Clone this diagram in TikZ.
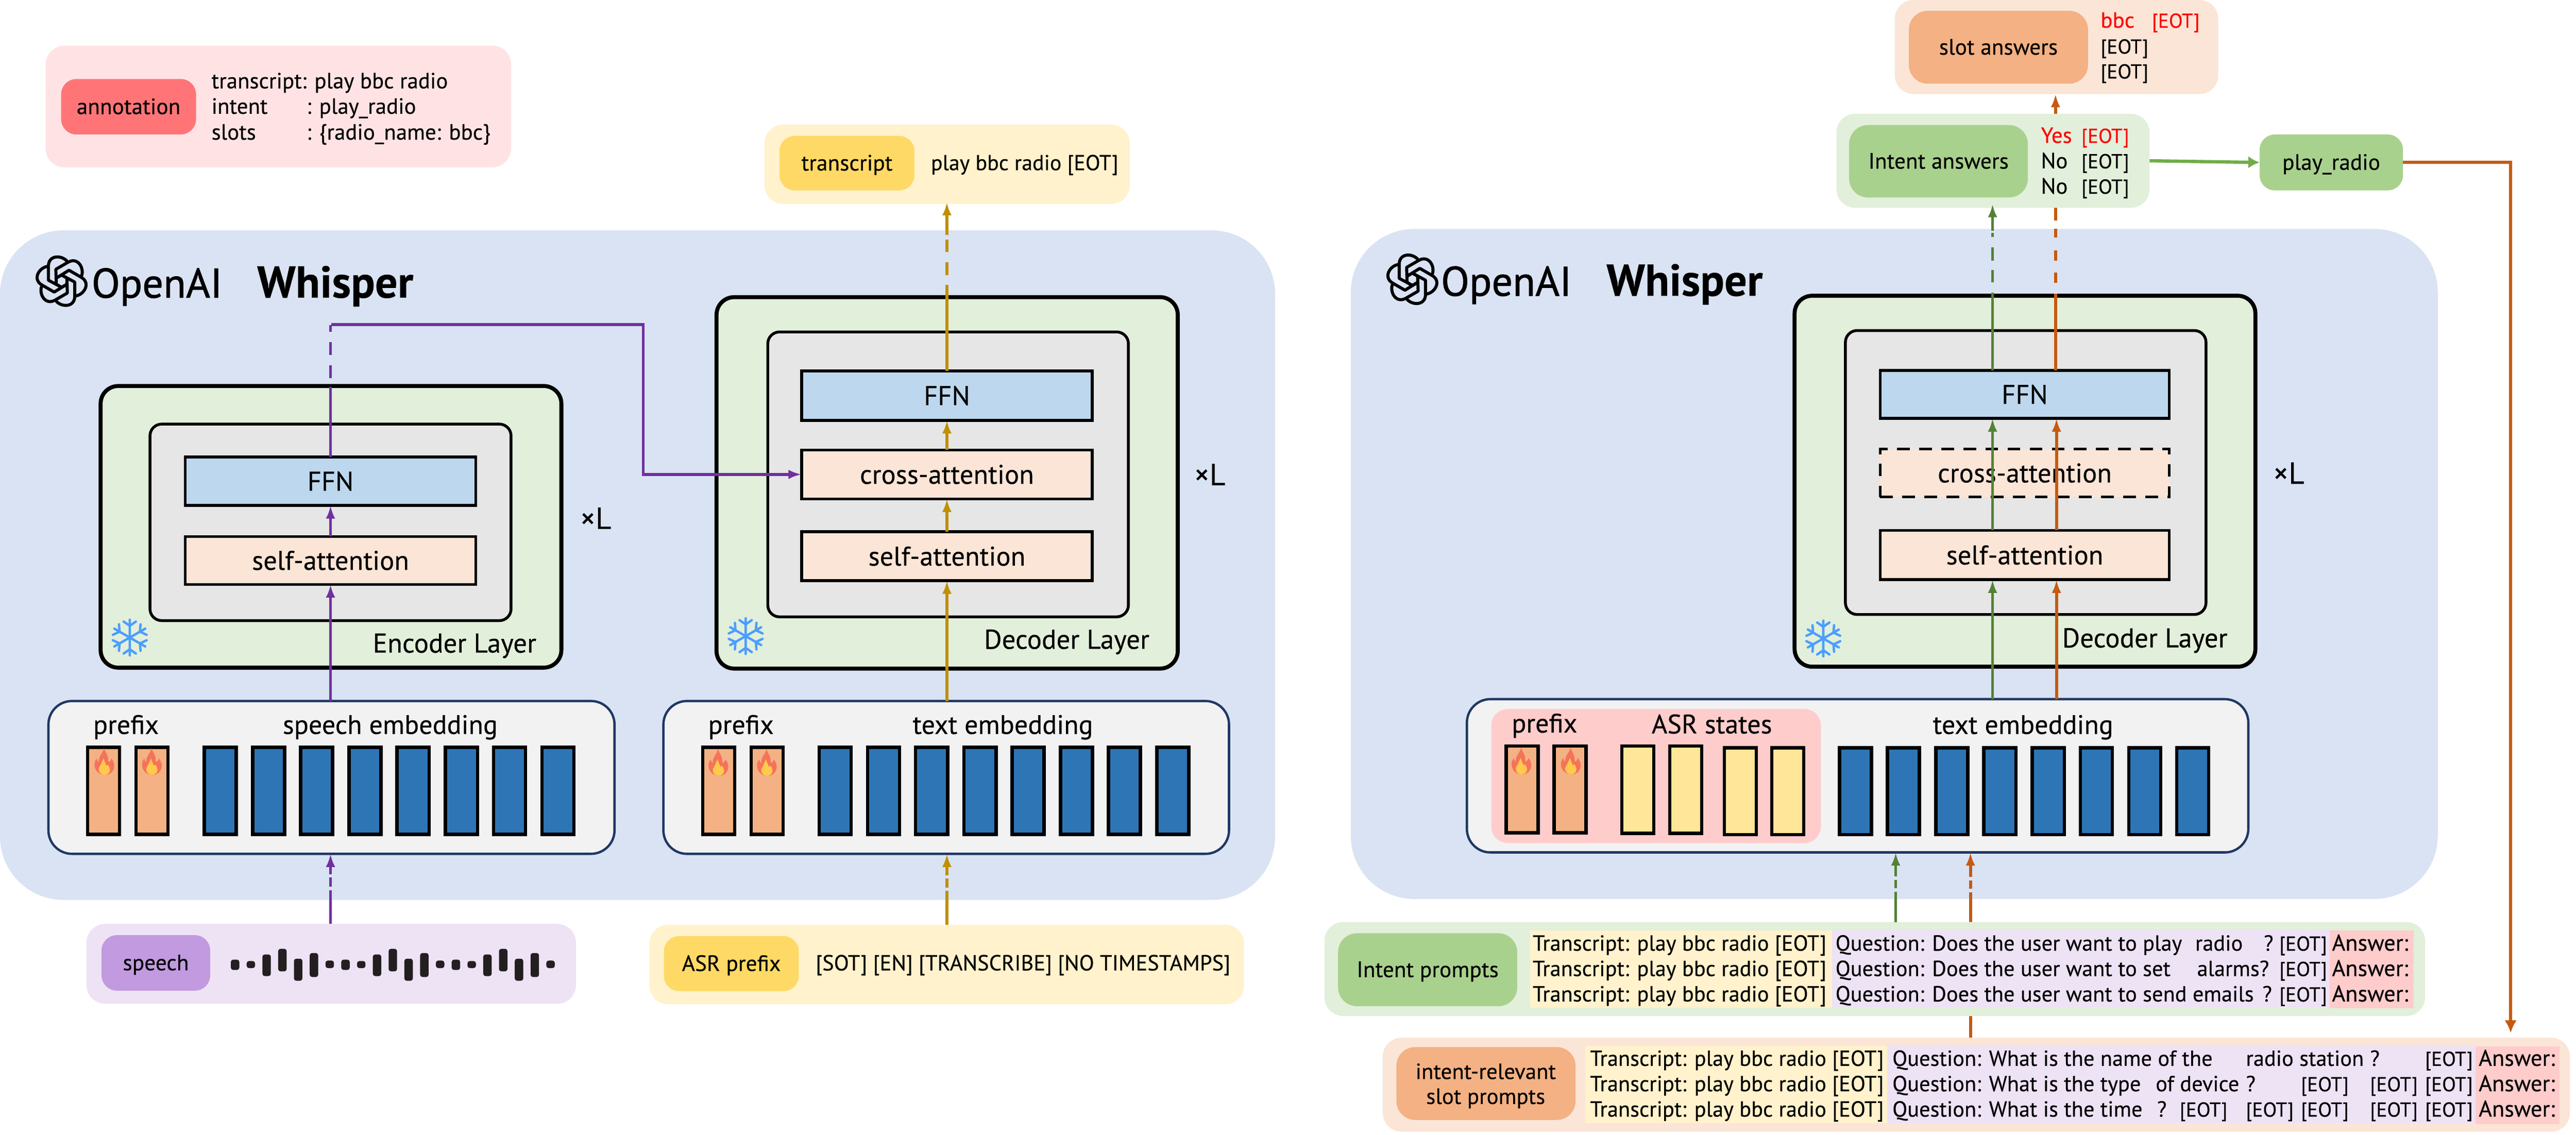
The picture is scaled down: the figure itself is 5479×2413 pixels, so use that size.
\documentclass[tikz,border=0pt]{standalone}
\usepackage{fontspec}
\usepackage{graphicx}
\setmainfont[FakeBold=0.3]{PT Sans}
\newfontfamily\titlefont[FakeBold=1.2]{PT Sans}
\usetikzlibrary{arrows.meta,calc}
\definecolor{cPanel}{HTML}{DAE3F3}
\definecolor{cLayer}{HTML}{E2EFDA}
\definecolor{cGray}{HTML}{E6E6E6}
\definecolor{cPeach}{HTML}{FBE5D6}
\definecolor{cFFN}{HTML}{BDD7EE}
\definecolor{cCream}{HTML}{FFF2CC}
\definecolor{cGold}{HTML}{FFD966}
\definecolor{cPinkP}{HTML}{FFE3E4}
\definecolor{cAnno}{HTML}{FF7577}
\definecolor{cLilac}{HTML}{EEE2F5}
\definecolor{cPurp}{HTML}{C19ADF}
\definecolor{cOrange}{HTML}{F4B183}
\definecolor{cGreen}{HTML}{A9D18E}
\definecolor{cBlue}{HTML}{2E75B6}
\definecolor{cYel}{HTML}{FFE699}
\definecolor{cPink}{HTML}{FFCCCC}
\definecolor{cNavy}{HTML}{1F3864}
\definecolor{cEmb}{HTML}{F2F2F2}
\definecolor{lPurp}{HTML}{7030A0}
\definecolor{lGold}{HTML}{BF9000}
\definecolor{lGreen}{HTML}{548235}
\definecolor{lOrange}{HTML}{C55A11}
\definecolor{lLeaf}{HTML}{70AD47}
\definecolor{cSnow}{HTML}{4B9EFF}
\definecolor{cBar}{HTML}{231F20}
\definecolor{cFlameO}{HTML}{F5735A}
\definecolor{cFlameY}{HTML}{FFC94D}
\tikzset{
 bxbase/.style={rectangle,inner sep=0pt,outer sep=0pt,align=center},
 lblL/.style={font=\fontsize{11.5pt}{13pt}\selectfont,text height=8pt,text depth=0pt},
 lblS/.style={font=\fontsize{9.5pt}{11pt}\selectfont,text height=6.3pt,text depth=0pt},
 panel/.style={bxbase,rounded corners=8pt},
 tag/.style={bxbase,rounded corners=6.5pt,lblS},
 strip/.style={bxbase},
 whisper/.style={bxbase,fill=cPanel,rounded corners=27pt},
 layerbox/.style={bxbase,fill=cLayer,draw=black,line width=1.7pt,rounded corners=7.5pt},
 graybox/.style={bxbase,fill=cGray,draw=black,line width=1.2pt,rounded corners=5pt},
 ffnbox/.style={bxbase,fill=cFFN,draw=black,line width=1.2pt,lblL},
 attbox/.style={bxbase,fill=cPeach,draw=black,line width=1.2pt,lblL},
 embbox/.style={bxbase,fill=cEmb,draw=cNavy,line width=1pt,rounded corners=10pt},
 cellbox/.style={bxbase,draw=black,line width=1.4pt},
 tokL/.style={inner sep=0pt,outer sep=0pt,anchor=base,font=\fontsize{11.4pt}{13pt}\selectfont},
 tokLw/.style={inner sep=0pt,outer sep=0pt,anchor=base west,font=\fontsize{11.6pt}{13pt}\selectfont},
 tokS/.style={inner sep=0pt,outer sep=0pt,anchor=base west,font=\fontsize{9.3pt}{11pt}\selectfont},
 tokE/.style={inner sep=0pt,outer sep=0pt,anchor=base west,font=\fontsize{8.6pt}{11pt}\selectfont},
 tokQ/.style={inner sep=0pt,outer sep=0pt,anchor=base west,font=\fontsize{9.7pt}{11pt}\selectfont},
 tokA/.style={inner sep=0pt,outer sep=0pt,anchor=base west,font=\fontsize{9.4pt}{11pt}\selectfont},
 timesL/.style={bxbase,font=\fontsize{13pt}{15pt}\selectfont,text height=8pt,text depth=0pt},
 titleT/.style={inner sep=0pt,anchor=base west,font=\fontsize{17.6pt}{20pt}\titlefont},
 titleW/.style={inner sep=0pt,anchor=base west,font=\fontsize{19pt}{22pt}\selectfont\bfseries},
 conn/.style={line width=1.25pt,-{Latex[length=5.6pt,width=4pt]}},
 dashSpeech/.style={dash pattern=on 14.4pt off 1.4pt on 4pt off 1.2pt on 100pt},
 dashGreenLow/.style={dash pattern=on 12.8pt off 1.6pt on 3.4pt off 1.6pt on 100pt},
 dashOrangeLow/.style={dash pattern=on 61.8pt off 1.6pt on 3.4pt off 1.6pt on 100pt},
 logoline/.style={draw=black,line width=1.3pt,line join=round},
 snowline/.style={draw=cSnow,line width=1pt,line cap=round},
}
\newcommand\bx[7][]{%
 \pgfmathsetmacro\bxcx{(#3+#5)/2}\pgfmathsetmacro\bxcy{(#4+#6)/2}%
 \pgfmathsetmacro\bxw{(#5-#3)*0.2}\pgfmathsetmacro\bxh{(#6-#4)*0.2}%
 \node[#1,minimum width=\bxw pt,minimum height=\bxh pt] (#2) at (\bxcx,\bxcy) {#7};}
\newcommand\cell[5]{%
 \pgfmathsetmacro\clx{#3+37.5}\pgfmathsetmacro\cly{(#4+#5)/2}\pgfmathsetmacro\clh{(#5-#4-7)*0.2}%
 \node[cellbox,fill=#1,minimum width=13.6pt,minimum height=\clh pt] (#2) at (\clx,\cly) {};}
\newcommand\flame[2]{%
 \begin{scope}[shift={(#1,#2)}]
 \fill[fill=cFlameO] (2,0) .. controls (-10,0) and (-21,-8) .. (-21,-22) .. controls (-21,-27) and (-19,-31) .. (-16,-35) .. controls (-16,-31) and (-14,-28) .. (-12,-27) .. controls (-13,-40) and (-3,-45) .. (-1,-57) .. controls (3,-46) and (8,-42) .. (8,-33) .. controls (8,-30) and (8,-28) .. (9,-27) .. controls (12,-28) and (14,-31) .. (15,-35) .. controls (18,-30) and (21,-26) .. (21,-20) .. controls (21,-8) and (12,0) .. (2,0) -- cycle;
 \fill[fill=cFlameY] (1,0) .. controls (-7,0) and (-12,-6) .. (-12,-12) .. controls (-12,-17) and (-8,-19) .. (-7,-23) .. controls (-6,-27) and (-3,-31) .. (-2,-35) .. controls (0,-30) and (1,-27) .. (3,-22) .. controls (4,-19) and (6,-18) .. (7,-22) .. controls (10,-18) and (12,-15) .. (12,-11) .. controls (12,-5) and (7,0) .. (1,0) -- cycle;
 \end{scope}}
\newcommand\openlogo[2]{%
 \begin{scope}[shift={(#1,#2)}]
 \foreach \lga in {0,60,...,300}{
  \draw[logoline,rotate=\lga] (11.7,-42.3) .. controls (0,-56) and (-28,-56) .. (-28,-32) -- (-28,-2) -- (0,13) -- (13,6);
 }
 \end{scope}}
\newcommand\snow[2]{%
 \begin{scope}[shift={(#1,#2)}]
 \foreach \sna in {0,60,...,300}{
  \draw[snowline,rotate=\sna] (0,0) -- (0,-38) (0,-25) -- (-13,-34) (0,-25) -- (13,-34);
 }
 \end{scope}}
\begin{document}
\begin{tikzpicture}[x=0.2pt,y=-0.2pt]
\useasboundingbox (0,0) rectangle (5479,2413);
% ---------- panels
\bx[whisper]{leftWhisper}{0}{490}{2712}{1914}{}
\bx[whisper]{rightWhisper}{2873}{487}{5185}{1912}{}
\bx[panel,fill=cPinkP]{annoPanel}{97}{97}{1087}{356}{}
\bx[tag,fill=cAnno]{annoTag}{130}{168}{417}{286}{annotation}
\node[tokA] (annoA) at (450,188) {transcript: play bbc radio};
\node[tokA] (annoB) at (450,242) {intent};
\node[tokA] (annoBv) at (652,242) {: play\_radio};
\node[tokA] (annoC) at (450,297) {slots};
\node[tokA] (annoCv) at (652,297) {: \{radio\_name: bbc\}};
% ---------- titles
\openlogo{131}{598}
\node[titleT] (titleA) at (194,633) {OpenAI};
\node[titleW] (titleB) at (546,633) {Whisper};
\openlogo{3004}{594}
\node[titleT] (titleC) at (3064,629) {OpenAI};
\node[titleW] (titleD) at (3416,629) {Whisper};
% ---------- encoder
\bx[layerbox]{eLayer}{214}{821}{1194}{1420}{}
\bx[graybox]{eGray}{319}{902}{1087}{1320}{}
\bx[ffnbox]{eFFN}{394}{972}{1012}{1075}{FFN}
\bx[attbox]{eSelf}{394}{1141}{1012}{1243}{self-attention}
\node[tokLw] (eLab) at (793,1388) {Encoder Layer};
\node[timesL] (eL) at (1267,1105) {×L};
\snow{276}{1356}
% ---------- decoder
\bx[layerbox]{dLayer}{1524}{632}{2505}{1422}{}
\bx[graybox]{dGray}{1633}{706}{2400}{1312}{}
\bx[ffnbox]{dFFN}{1705}{789}{2323}{894}{FFN}
\bx[attbox]{dCross}{1705}{957}{2323}{1061}{cross-attention}
\bx[attbox]{dSelf}{1705}{1131}{2323}{1235}{self-attention}
\node[tokLw] (dLab) at (2093,1380) {Decoder Layer};
\node[timesL] (dL) at (2573,1012) {×L};
\snow{1586}{1353}
% ---------- encoder embedding
\bx[embbox]{eEmb}{103}{1491}{1307}{1816}{}
\node[tokL] (ePre) at (268,1561) {prefix};
\node[tokL] (eEmbLab) at (830,1561) {speech embedding};
\cell{cOrange}{ec1}{183}{1586}{1778}
\cell{cOrange}{ec2}{286}{1586}{1778}
\foreach \i/\xx in {1/431,2/534,3/636,4/739,5/841,6/944,7/1046,8/1149}{\cell{cBlue}{eb\i}{\xx}{1586}{1778}}
\flame{222}{1648}
\flame{323}{1648}
% ---------- decoder embedding
\bx[embbox]{dEmb}{1411}{1491}{2614}{1816}{}
\node[tokL] (dPre) at (1576,1561) {prefix};
\node[tokL] (dEmbLab) at (2133,1561) {text embedding};
\cell{cOrange}{dc1}{1491}{1586}{1778}
\cell{cOrange}{dc2}{1594}{1586}{1778}
\foreach \i/\xx in {1/1739,2/1842,3/1944,4/2047,5/2149,6/2252,7/2354,8/2457}{\cell{cBlue}{db\i}{\xx}{1586}{1778}}
\flame{1528}{1650}
\flame{1631}{1650}
% ---------- speech input
\bx[panel,fill=cLilac]{speechPanel}{184}{1965}{1225}{2135}{}
\bx[tag,fill=cPurp]{speechTag}{216}{1989}{447}{2107}{speech}
\foreach \p in {0,1,2}{
 \foreach \k/\ya/\yb in {0/2041/2063,1/2044/2059,2/2030/2076,3/2018/2066,4/2039/2086,5/2027/2078,6/2043/2059}{
  \pgfmathsetmacro\wx{500+33.55*(\k+7*\p)}
  \ifnum\numexpr\k+7*\p\relax<21
   \fill[cBar,rounded corners=1pt] ({\wx-9},\ya) rectangle ({\wx+9},\yb);
  \fi
 }
}
% ---------- ASR prefix
\bx[panel,fill=cCream]{asrPanel}{1381}{1967}{2646}{2136}{}
\bx[tag,fill=cGold]{asrTag}{1412}{1991}{1699}{2108}{ASR prefix}
\node[tokA,font=\fontsize{9.3pt}{11pt}\selectfont] (asrTxt) at (1735,2064) {[SOT] [EN] [TRANSCRIBE] [NO TIMESTAMPS]};
% ---------- transcript
\bx[panel,fill=cCream]{trPanel}{1626}{265}{2403}{434}{}
\bx[tag,fill=cGold]{trTag}{1658}{289}{1945}{405}{transcript}
\node[tokA,font=\fontsize{9.2pt}{11pt}\selectfont] (trTxt) at (1980,362) {play bbc radio [EOT]};
% ---------- left connectors
\coordinate (pCorner) at (1368,690);
\draw[conn,lPurp,dash pattern=on 29.8pt off 3.8pt on 5.4pt off 4.4pt on 5.4pt off 4.4pt on 3pt off 0.6pt on 400pt] (eFFN.north) |- (pCorner) |- (dCross.west);
\draw[conn,lPurp] (eSelf.north) -- (eFFN.south);
\draw[conn,lPurp] (eEmb.north -| eSelf) -- (eSelf.south);
\draw[conn,lPurp,dashSpeech] (speechPanel.north -| eSelf) -- (eEmb.south -| eSelf);
\draw[conn,lGold] (dSelf.north) -- (dCross.south);
\draw[conn,lGold] (dCross.north) -- (dFFN.south);
\draw[conn,lGold] (dEmb.north -| dSelf) -- (dSelf.south);
\draw[conn,lGold,dashSpeech] (asrPanel.north -| dSelf) -- (dEmb.south -| dSelf);
\draw[conn,lGold,shorten >=-0.8pt,dash pattern=on 36.6pt off 4.2pt on 5.4pt off 4.4pt on 5.4pt off 1.8pt on 100pt] (dFFN.north) -- (trPanel.south -| dFFN);
% ---------- right decoder
\bx[layerbox]{rLayer}{3817}{629}{4797}{1418}{}
\bx[graybox]{rGray}{3925}{703}{4692}{1307}{}
\bx[ffnbox]{rFFN}{3999}{788}{4614}{890}{FFN}
\bx[attbox,dash pattern=on 5.4pt off 4pt]{rCross}{3999}{955}{4614}{1057}{cross-attention}
\bx[attbox]{rSelf}{3999}{1128}{4614}{1233}{self-attention}
\node[tokLw] (rLab) at (4386,1377) {Decoder Layer};
\node[timesL] (rL) at (4868,1009) {×L};
\snow{3878}{1358}
% ---------- right embedding
\bx[embbox]{rEmb}{3120}{1487}{4782}{1813}{}
\bx[bxbase,fill=cPink,rounded corners=7pt]{rPink}{3172}{1508}{3873}{1793}{}
\node[tokL] (rPre) at (3285,1558) {prefix};
\node[tokL] (rAsr) at (3641,1560) {ASR states};
\node[tokL] (rEmbLab) at (4303,1561) {text embedding};
\cell{cOrange}{rc1}{3200}{1583}{1775}
\cell{cOrange}{rc2}{3302}{1583}{1775}
\cell{cYel}{ry1}{3446}{1583}{1776}
\cell{cYel}{ry2}{3548}{1583}{1776}
\cell{cYel}{ry3}{3664}{1587}{1779}
\cell{cYel}{ry4}{3765}{1587}{1779}
\foreach \i/\xx in {1/3909,2/4011,3/4114,4/4216,5/4319,6/4421,7/4524,8/4626}{\cell{cBlue}{rb\i}{\xx}{1587}{1779}}
\flame{3236}{1647}
\flame{3341}{1647}
% ---------- slot prompts panel (under the orange line)
\bx[panel,fill=cPeach]{slotPanel}{2941}{2207}{5466}{2407}{}
\bx[tag,fill=cOrange,rounded corners=8pt]{slotTag}{2970}{2227}{3351}{2382}{}
\node[tokA,anchor=base] (slotTagA) at (3160,2295) {intent-relevant};
\node[tokA,anchor=base] (slotTagB) at (3160,2348) {slot prompts};
\bx[strip,fill=cCream]{slotY}{3372}{2224}{4014}{2389}{}
\bx[strip,fill=cLilac]{slotQ}{4014}{2224}{5265}{2389}{}
\bx[strip,fill=cPink]{slotA}{5265}{2226}{5444}{2391}{}
\foreach \n/\yy in {1/2267,2/2321,3/2375}{
 \node[tokS] (sT\n) at (3382,\yy) {Transcript: play bbc radio [EOT]};
 \node[tokQ] (sA\n) at (5272,\yy) {Answer:};
 \node[tokE] (sE\n) at (5158,\yy) {[EOT]};
}
\node[tokS] (sQ1) at (4025,2267) {Question: What is the name of the};
\node[tokS] (sV1) at (4777,2267) {radio station};
\node[tokS] (sM1) at (5041,2267) {?};
\node[tokS] (sQ2) at (4025,2321) {Question: What is the type};
\node[tokS] (sV2) at (4585,2321) {of device};
\node[tokS] (sM2) at (4777,2321) {?};
\node[tokE] (sE2a) at (4894,2321) {[EOT]};
\node[tokE] (sE2b) at (5041,2321) {[EOT]};
\node[tokS] (sQ3) at (4025,2375) {Question: What is the time};
\node[tokS] (sM3) at (4588,2375) {?};
\node[tokE] (sE3a) at (4636,2375) {[EOT]};
\node[tokE] (sE3b) at (4777,2375) {[EOT]};
\node[tokE] (sE3c) at (4894,2375) {[EOT]};
\node[tokE] (sE3d) at (5041,2375) {[EOT]};
% ---------- right connectors
\coordinate (gA) at (4238,1000);
\coordinate (oB) at (4374,1000);
\coordinate (oC) at (4372,1000);
\coordinate (gL) at (4032,1000);
\coordinate (oL) at (4191,1000);
\coordinate (oR) at (5340,2207);
\draw[conn,lOrange,dashOrangeLow] (slotPanel.north -| oL) -- (rEmb.south -| oL);
% ---------- top right answers
\bx[panel,fill=cPeach]{slotAns}{4030}{0}{4718}{200}{}
\bx[tag,fill=cOrange,rounded corners=8pt]{slotAnsTag}{4060}{23}{4441}{178}{slot answers}
\node[tokE,red,font=\fontsize{9.4pt}{11pt}\selectfont] (saA) at (4468,59) {bbc};
\node[tokE,red] (saB) at (4577,59) {[EOT]};
\node[tokE] (saC) at (4468,114) {[EOT]};
\node[tokE] (saD) at (4468,167) {[EOT]};
\draw[conn,lOrange,dash pattern=on 32.6pt off 4.6pt on 4.4pt off 5.2pt on 4.2pt off 5.6pt on 3.6pt off 3.6pt on 100pt] (rFFN.north -| oC) -- (slotAns.south -| oC);
\bx[panel,fill=cLayer]{intAns}{3906}{242}{4572}{442}{}
\bx[tag,fill=cGreen,rounded corners=8pt]{intAnsTag}{3933}{266}{4313}{420}{Intent answers}
\node[tokA,red] (iaA) at (4341,304) {Yes};
\node[tokE,red] (iaB) at (4427,304) {[EOT]};
\node[tokA] (iaC) at (4341,358) {No};
\node[tokE] (iaD) at (4427,358) {[EOT]};
\node[tokA] (iaE) at (4341,412) {No};
\node[tokE] (iaF) at (4427,412) {[EOT]};
\bx[tag,fill=cGreen]{playR}{4806}{286}{5111}{405}{play\_radio}
\draw[line width=1.4pt,lLeaf,-{Latex[length=4.8pt,width=5.2pt]}] (intAns.east) -- (playR.west);
\draw[line width=1.25pt,lOrange,shorten >=2pt,-{Latex[length=5.4pt,width=5.2pt]}] (playR.east) -| (oR);
% ---------- intent prompts panel
\bx[panel,fill=cLayer]{intPanel}{2817}{1961}{5158}{2161}{}
\bx[tag,fill=cGreen,rounded corners=8pt]{intTag}{2846}{1985}{3227}{2140}{Intent prompts}
\bx[strip,fill=cCream]{intY}{3255}{1979}{3897}{2143}{}
\bx[strip,fill=cLilac]{intQ}{3897}{1977}{4955}{2142}{}
\bx[strip,fill=cPink]{intA}{4955}{1979}{5134}{2144}{}
\foreach \n/\yy in {1/2022,2/2076,3/2130}{
 \node[tokS] (iT\n) at (3260,\yy) {Transcript: play bbc radio [EOT]};
 \node[tokQ] (iA\n) at (4960,\yy) {Answer:};
 \node[tokE] (iE\n) at (4848,\yy) {[EOT]};
}
\node[tokS] (iQ1) at (3904,2022) {Question: Does the user want to play};
\node[tokS] (iV1) at (4669,2022) {radio};
\node[tokS] (iM1) at (4815,2022) {?};
\node[tokS] (iQ2) at (3904,2076) {Question: Does the user want to set};
\node[tokS] (iV2) at (4673,2076) {alarms?};
\node[tokS] (iQ3) at (3904,2130) {Question: Does the user want to send emails};
\node[tokS] (iM3) at (4812,2130) {?};
% ---------- green and inner connectors
\draw[conn,lGreen,dashGreenLow] (intPanel.north -| gL) -- (rEmb.south -| gL);
\draw[conn,lGreen,shorten >=-1.6pt,dash pattern=on 33.2pt off 4.4pt on 5.2pt off 4pt on 5.6pt off 4.4pt on 1.8pt off 0.8pt on 100pt] (rFFN.north -| gA) -- (intAns.south -| gA);
\draw[conn,lGreen] (rSelf.north -| gA) -- (rFFN.south -| gA);
\draw[conn,lGreen] (rEmb.north -| gA) -- (rSelf.south -| gA);
\draw[conn,lOrange] (rSelf.north -| oB) -- (rFFN.south -| oB);
\draw[conn,lOrange] (rEmb.north -| oB) -- (rSelf.south -| oB);
\end{tikzpicture}
\end{document}
